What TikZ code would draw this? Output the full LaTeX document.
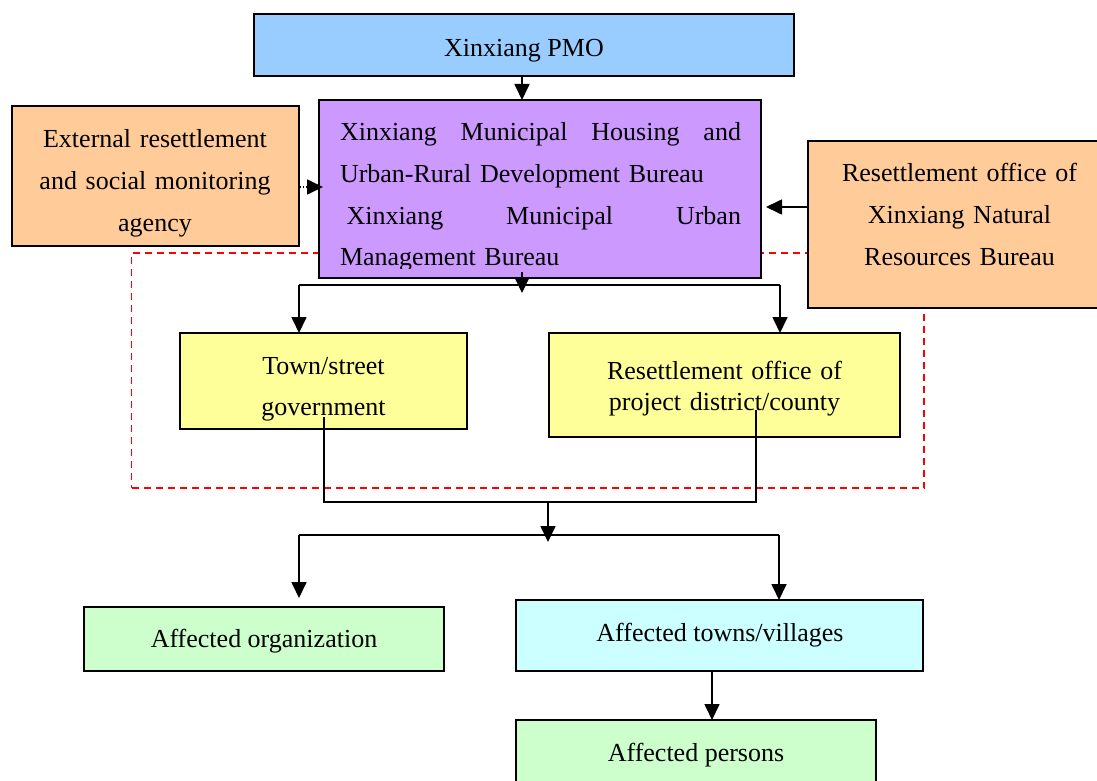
\documentclass[tikz,border=0pt]{standalone}
\usepackage{fontspec}
\setmainfont{Liberation Serif}
\usetikzlibrary{arrows.meta}
\definecolor{pmoblue}{HTML}{99CCFF}
\definecolor{bureaupurple}{HTML}{CC99FF}
\definecolor{agencyorange}{HTML}{FFCC99}
\definecolor{localyellow}{HTML}{FFFF99}
\definecolor{affectedgreen}{HTML}{CCFFCC}
\definecolor{villagecyan}{HTML}{CCFFFF}
\begin{document}
\begin{tikzpicture}[x=1pt,y=-1pt,
  box/.style={draw=black, line width=1.9pt, inner sep=0pt, outer sep=0pt},
  lbl/.style={inner sep=0pt, outer sep=0pt, align=center, font={\fontsize{26}{42}\selectfont}},
  link/.style={line width=1.7pt},
  tip/.style={-{Triangle[length=16pt,width=15pt]}},
  arr/.style={link, tip},
  zone/.style={draw=red, line width=1.5pt, dash pattern=on 7pt off 5pt, inner sep=0pt}
]
\useasboundingbox (0,0) rectangle (1097,781);

% dashed frame around the implementing bodies (behind everything)
\node[zone, minimum width=792.5pt, minimum height=235pt] (zone) at (527.75,370.5) {};

% boxes
\node[box, fill=pmoblue, minimum width=540pt, minimum height=62pt] (pmo) at (524,45) {};
\node[box, fill=bureaupurple, minimum width=442pt, minimum height=178pt] (hub) at (540,189) {};
\node[box, fill=agencyorange, minimum width=287pt, minimum height=140pt] (ext) at (155.5,176) {};
\node[box, fill=agencyorange, minimum width=303pt, minimum height=167pt] (nrb) at (959.5,224.5) {};
\node[box, fill=localyellow, minimum width=287pt, minimum height=96pt] (town) at (323.5,381) {};
\node[box, fill=localyellow, minimum width=351pt, minimum height=104pt] (dist) at (724.5,385) {};
\node[box, fill=affectedgreen, minimum width=360pt, minimum height=64pt] (org) at (264,639) {};
\node[box, fill=villagecyan, minimum width=407pt, minimum height=71pt] (vill) at (719.5,635.5) {};
\node[box, fill=affectedgreen, minimum width=360pt, minimum height=80pt] (pers) at (696,760) {};

% texts
\node[lbl, anchor=base] (pmo-t) at (524,57) {Xinxiang PMO};
\node[lbl, text width=290pt, anchor=base] (ext-t) at (155,147) {External resettlement\\and social monitoring\\agency};
\node[lbl, text width=300pt, anchor=base] (nrb-t) at (959.5,181) {Resettlement office of\\Xinxiang Natural\\Resources Bureau};
\node[lbl, text width=280pt, anchor=base, font={\fontsize{26}{41}\selectfont}] (town-t) at (323.5,374) {Town/street\\government};
\node[lbl, text width=340pt, anchor=base, font={\fontsize{26}{31}\selectfont}] (dist-t) at (724.5,379) {Resettlement office of\\project district/county};
\node[lbl, anchor=base] (org-t) at (264,647) {Affected organization};
\node[lbl, anchor=base] (vill-t) at (720,641) {Affected towns/villages};
\node[lbl, anchor=base] (pers-t) at (696,761) {Affected persons};
\begin{scope}
  \clip (319,100) rectangle (761,268);
  \node[lbl, align=left, text width=401pt, anchor=base west, font={\fontsize{26}{41.6}\selectfont}] (hub-t) at (340,141)
    {Xinxiang\hfill Municipal\hfill Housing\hfill and\\
     Urban-Rural Development Bureau\\
     \hspace*{6.5pt}Xinxiang\hfill Municipal\hfill Urban\\
     Management Bureau};
\end{scope}

% helper coordinates
\coordinate (dotY) at (0,187);
\coordinate (nrbY) at (0,207);
\coordinate (brL) at (299,285);
\coordinate (brR) at (780,285);
\coordinate (govTail) at (324,417);
\coordinate (offTail) at (756,410);
\coordinate (join) at (548,502);
\coordinate (brL2) at (299,535);
\coordinate (brR2) at (779,535);
\coordinate (orgTip) at (299,598);
\coordinate (pv) at (712,0);

% connectors
\draw[arr] ([xshift=-2pt]pmo.south) -- ([xshift=-2pt]pmo.south |- hub.north);
\draw[link, dotted, tip] (ext.east |- dotY) -- ([xshift=4pt]hub.west |- dotY);
\draw[arr] (nrb.west |- nrbY) -- ([xshift=5pt]hub.east |- nrbY);
\draw[arr] ([xshift=-18pt,yshift=6pt]hub.south) -- ([xshift=-18pt,yshift=-15pt]hub.south);
\draw[link] (brL) -- (brR);
\draw[arr] (brL) -- (brL |- town.north);
\draw[arr] (brR) -- (brR |- dist.north);
\draw[link] (govTail) |- (join) -| (offTail);
\draw[arr] (join) -- ([yshift=-40pt]join);
\draw[link] (brL2) -- (brR2);
\draw[arr] (brL2) -- (orgTip);
\draw[arr] (brR2) -- (brR2 |- vill.north);
\draw[arr] (vill.south -| pv) -- (pers.north -| pv);
\end{tikzpicture}
\end{document}
